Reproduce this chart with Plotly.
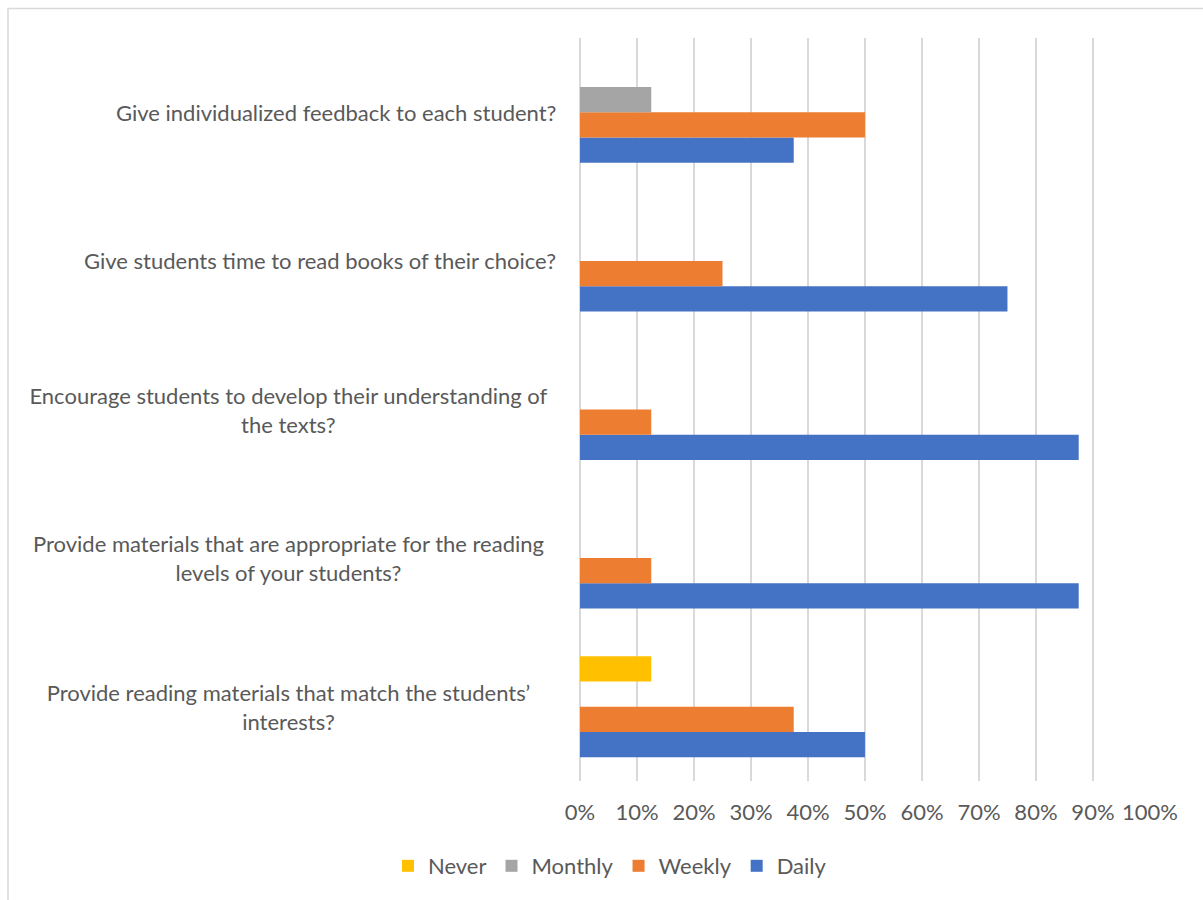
import plotly.graph_objects as go

# Survey questions, listed top to bottom as they appear on the chart
questions = [
    "Give individualized feedback to each student?",
    "Give students time to read books of their choice?",
    "Encourage students to develop their understanding of<br>the texts?",
    "Provide materials that are appropriate for the reading<br>levels of your students?",
    "Provide reading materials that match the students’<br>interests?",
]

# Share of responses per frequency (fractions of 1), same order as questions
never = [0.0, 0.0, 0.0, 0.0, 0.125]
monthly = [0.125, 0.0, 0.0, 0.0, 0.0]
weekly = [0.50, 0.25, 0.125, 0.125, 0.375]
daily = [0.375, 0.75, 0.875, 0.875, 0.50]

x_ticks = [i / 10 for i in range(11)]
x_tick_labels = [f"{i * 10}%" for i in range(11)]

series = [
    ("Daily", daily, "#4472C4"),
    ("Weekly", weekly, "#ED7D31"),
    ("Monthly", monthly, "#A5A5A5"),
    ("Never", never, "#FFC000"),
]

FONT = "Lato"
SIZE = 22
TEXT = "#595959"
GRID = "#D9D9D9"

fig = go.Figure()
for name, vals, color in series:
    fig.add_trace(go.Bar(
        name=name, y=questions, x=vals, orientation="h",
        marker=dict(color=color, line=dict(width=0)),
    ))

# Category labels drawn as annotations so wrapped lines can be centred
for q in questions:
    multi = "<br>" in q
    fig.add_annotation(
        x=0, xref="paper", y=q, yref="y",
        text=q, showarrow=False,
        xanchor="right", yanchor="middle", xshift=-22,
        width=535 if multi else None,
        align="center" if multi else "right",
        font=dict(family=FONT, size=SIZE, color=TEXT),
    )

# Light outer frame around the chart area
fig.add_shape(
    type="rect", xref="paper", yref="paper",
    x0=(8 - 580) / 570, x1=(1206 - 580) / 570,
    y0=(781 - 906) / 743, y1=(781 - 8.5) / 743,
    line=dict(color=GRID, width=1.5), layer="below",
)

fig.update_layout(
    width=1203, height=900,
    margin=dict(l=580, r=53, t=38, b=119),
    paper_bgcolor="white", plot_bgcolor="white",
    barmode="group", bargap=0.32, bargroupgap=0,
    font=dict(family=FONT, size=SIZE, color=TEXT),
    showlegend=True,
    legend=dict(
        orientation="h", traceorder="reversed",
        x=(610 - 580) / 570, xanchor="center",
        y=(781 - 866) / 743, yanchor="middle",
        font=dict(family=FONT, size=SIZE, color=TEXT),
        itemwidth=30, itemclick=False,
    ),
    xaxis=dict(
        range=[0, 1.0001], tickvals=x_ticks, ticktext=x_tick_labels,
        showgrid=True, gridcolor=GRID, gridwidth=1.5,
        zeroline=True, zerolinecolor=GRID, zerolinewidth=1.5,
        showline=False, ticks="", ticklen=0, ticklabelstandoff=16,
        tickfont=dict(family=FONT, size=SIZE, color=TEXT),
    ),
    yaxis=dict(
        categoryorder="array", categoryarray=list(reversed(questions)),
        showticklabels=False, showgrid=False, zeroline=False, showline=False,
        ticks="",
    ),
)

fig.write_html("out.html")
